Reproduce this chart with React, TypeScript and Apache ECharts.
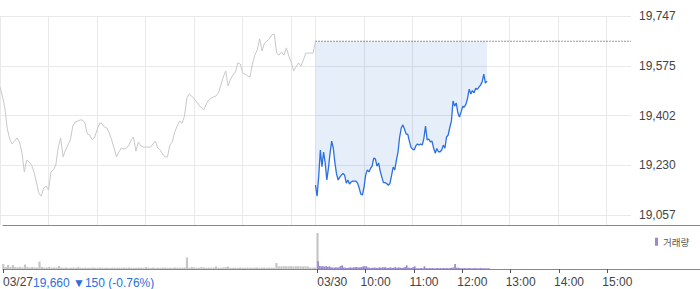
import React, { useEffect, useRef } from "react";
import * as echarts from "echarts";

const DAY1 = "03/27";
const DAY2 = "03/30";
const OPEN_MINUTE = 540; // 09:00
const SESSION_MINUTES = 390; // 09:00 - 15:30
const DAY1_STEP = 3;
const DAY2_STEP = 2;
const PREV_CLOSE = 19660;
const PRICE_TEXT = "19,660 \u25BC150 (-0.76%)";

const Y_TICK_MIN = 19057.5;
const Y_TICK_STEP = 172.5;
const Y_TICK_MAX = 19747.5;
const Y_DATA_MIN = 19023;
const VOL_MAX = 4400;

const X_LABELS = [
  "03/27 09:00",
  "03/30 09:00",
  "03/30 10:00",
  "03/30 11:00",
  "03/30 12:00",
  "03/30 13:00",
  "03/30 14:00",
  "03/30 15:00",
];

// 03/27, every 3 minutes from 09:00, last value = close
const day1Price = [
  19501, 19470, 19429, 19356, 19321, 19304, 19314, 19325, 19311, 19276,
  19207, 19248, 19241, 19231, 19207, 19172, 19134, 19123, 19151, 19158,
  19144, 19207, 19214, 19231, 19293, 19325, 19259, 19283, 19300, 19318,
  19366, 19380, 19383, 19387, 19387, 19376, 19338, 19335, 19318, 19328,
  19352, 19376, 19375, 19363, 19359, 19342, 19318, 19290, 19259, 19276,
  19290, 19286, 19290, 19297, 19318, 19328, 19279, 19311, 19297, 19293,
  19293, 19293, 19293, 19304, 19314, 19290, 19283, 19269, 19259, 19259,
  19300, 19311, 19345, 19366, 19383, 19376, 19400, 19463, 19477, 19470,
  19460, 19450, 19439, 19429, 19422, 19443, 19456, 19463, 19467, 19470,
  19481, 19508, 19536, 19557, 19505, 19529, 19543, 19553, 19585, 19581,
  19550, 19546, 19540, 19536, 19581, 19612, 19630, 19668, 19626, 19654,
  19661, 19668, 19682, 19685, 19619, 19612, 19623, 19612, 19637, 19609,
  19588, 19557, 19571, 19585, 19574, 19595, 19619, 19619, 19619, 19619,
  19660,
];

// 03/30, every 2 minutes from 09:00
const day2Price = [
  19161, 19123, 19193, 19283, 19225, 19276, 19238, 19179, 19220, 19272,
  19314, 19289, 19238, 19200, 19179, 19189, 19196, 19202, 19196, 19168,
  19179, 19165, 19172, 19175, 19175, 19175, 19168, 19151, 19130, 19127,
  19155, 19196, 19214, 19207, 19219, 19227, 19255, 19252, 19227, 19238,
  19210, 19189, 19170, 19170, 19167, 19161, 19167, 19194, 19224, 19214,
  19248, 19276, 19328, 19359, 19370, 19356, 19338, 19338, 19314, 19293,
  19286, 19283, 19297, 19304, 19300, 19304, 19300, 19324, 19366, 19318,
  19321, 19311, 19314, 19290, 19272, 19288, 19277, 19277, 19283, 19300,
  19289, 19328, 19335, 19361, 19383, 19453, 19435, 19446, 19411, 19397,
  19415, 19434, 19432, 19442, 19463, 19494, 19477, 19489, 19481, 19497,
  19493, 19501, 19508, 19519, 19546, 19515, 19522,
];

const day1Volume = [
  500, 200, 400, 200, 400, 200, 150, 200, 150, 450,
  200, 150, 200, 150, 150, 750, 200, 150, 150, 200,
  150, 150, 150, 300, 150,
  120, 150, 120, 130, 150, 120, 200, 130, 120, 150,
  120, 130, 150, 120, 120, 150, 130, 120, 140, 120,
  130, 150, 120, 130, 120, 150, 120, 140, 130, 120,
  120, 150, 130, 120, 200, 130, 120, 150, 120, 130,
  120, 140, 150, 120, 130, 120, 150, 130, 140, 120, 150,
  1150,
  130, 200, 150, 120, 130, 200, 150, 120, 140, 120,
  150, 250, 130, 120, 150, 200, 250, 130, 120, 140,
  120, 150, 130, 120, 150, 130, 120, 140, 150, 120,
  130, 150, 120, 140, 130, 120,
  600,
  270, 260, 280, 270, 270, 280, 260, 270, 280, 270, 260, 270, 260,
  150, 140, 150,
  3600,
];

const day2Volume = [
  770, 300, 270, 270, 250, 270, 200, 270, 170, 150,
  130, 170, 150, 170, 300, 370, 150, 130, 100, 130,
  170, 130, 170, 170, 200, 150, 170, 200, 270, 270,
  270, 150, 130, 100, 130, 150, 130, 100, 170, 130,
  170, 170, 170, 100, 130, 170, 100, 130, 200, 100,
  170, 130, 100, 130, 200, 370, 130, 130, 100, 170,
  270, 70, 70, 70, 100, 70, 270, 100, 70, 100,
  70, 100, 70, 70, 100, 70, 100, 70, 100, 70,
  100, 70, 100, 130, 150, 500, 130, 130, 100, 70,
  70, 100, 70, 70, 100, 70, 70, 100, 70, 70,
  70, 100, 70, 70, 70, 70, 70,
];

const FONT = '"Liberation Sans", Arial, sans-serif';

function pad2(n: number) {
  return n < 10 ? "0" + n : String(n);
}
function categoryName(i: number) {
  const day = i < SESSION_MINUTES ? DAY1 : DAY2;
  const t = OPEN_MINUTE + (i < SESSION_MINUTES ? i : i - SESSION_MINUTES);
  return `${day} ${pad2(Math.floor(t / 60))}:${pad2(t % 60)}`;
}
const mainCats = Array.from({ length: 2 * SESSION_MINUTES + 1 }, (_, i) => categoryName(i));
const volCats = Array.from({ length: 866 }, (_, i) => categoryName(i));

const day1Pairs = day1Price.map((v, i) => [i * DAY1_STEP, v]);
const day2Pairs = day2Price.map((v, k) => [SESSION_MINUTES + k * DAY2_STEP, v]);
const gapPairs = day2Price.map((v, k) => [SESSION_MINUTES + k * DAY2_STEP, PREV_CLOSE - v]);
const prevClosePairs = [
  [SESSION_MINUTES, PREV_CLOSE],
  [2 * SESSION_MINUTES, PREV_CLOSE],
];
const day1VolPairs = day1Volume.map((v, i) => [i * DAY1_STEP, v]);
const day2VolPairs = day2Volume.map((v, k) => [SESSION_MINUTES + 1 + k * DAY2_STEP, v]);

const fmt = (v: number) => Math.floor(v + 1e-6).toLocaleString("en-US");

export default function App() {
  const ref = useRef<HTMLDivElement>(null);
  useEffect(() => {
    if (!ref.current) return;
    const chart = echarts.init(ref.current, undefined, { renderer: "svg" });
    const isHour = (_: number, v: string) => v.endsWith(":00");
    const isLabel = (_: number, v: string) => X_LABELS.includes(v);
    chart.setOption({
      animation: false,
      textStyle: { fontFamily: FONT },
      legend: {
        data: ["거래량"],
        left: 650,
        top: 232,
        icon: "rect",
        itemWidth: 3,
        itemHeight: 8,
        selectedMode: false,
        textStyle: { fontSize: 9.5, color: "#555", fontFamily: '"Noto Sans CJK KR", sans-serif' },
      },
      grid: [
        { left: 0, top: 16, width: 631, height: 209 },
        { left: 0, top: 16, width: 631, height: 199 },
        { left: 0, top: 225, width: 700, height: 44 },
      ],
      xAxis: [
        {
          gridIndex: 0,
          type: "category",
          data: mainCats,
          boundaryGap: false,
          axisLine: { show: false },
          axisTick: { show: false },
          axisLabel: { show: false },
          splitLine: { show: true, interval: isHour, lineStyle: { color: "#e9e9e9", width: 1 } },
        },
        { gridIndex: 1, type: "category", data: mainCats, boundaryGap: false, show: false },
        {
          gridIndex: 2,
          type: "category",
          data: volCats,
          boundaryGap: false,
          axisLine: { show: true, onZero: false, lineStyle: { color: "#888", width: 1 } },
          axisTick: { show: true, interval: isLabel, length: 4, lineStyle: { color: "#555" } },
          axisLabel: {
            interval: isLabel,
            margin: 7,
            formatter: (v: string) =>
              v.endsWith("09:00") ? `{d|${v.slice(0, 5)}}` : `{t|${v.slice(6)}}`,
            rich: {
              d: { padding: [0, 0, 0, 30], fontSize: 12, color: "#444", fontFamily: FONT },
              t: { padding: [0, 0, 0, 20], fontSize: 12, color: "#444", fontFamily: FONT },
            },
          },
          splitLine: { show: false },
        },
        {
          gridIndex: 2,
          type: "category",
          data: volCats,
          position: "top",
          boundaryGap: false,
          axisLine: { show: true, onZero: false, lineStyle: { color: "#888", width: 1 } },
          axisTick: { show: false },
          axisLabel: { show: false },
          splitLine: { show: false },
        },
      ],
      yAxis: [
        { gridIndex: 0, type: "value", min: Y_DATA_MIN, max: Y_TICK_MAX, show: false },
        {
          gridIndex: 1,
          type: "value",
          position: "right",
          min: Y_TICK_MIN,
          max: Y_TICK_MAX,
          interval: Y_TICK_STEP,
          axisLine: { show: false },
          axisTick: { show: false },
          axisLabel: { margin: 8, formatter: fmt, color: "#444", fontSize: 12, fontFamily: FONT },
          splitLine: { show: true, lineStyle: { color: "#e9e9e9", width: 1 } },
        },
        { gridIndex: 2, type: "value", min: 0, max: VOL_MAX, show: false },
      ],
      series: [
        {
          name: "base",
          type: "line",
          xAxisIndex: 0,
          yAxisIndex: 0,
          stack: "gap",
          data: day2Pairs,
          symbol: "none",
          silent: true,
          lineStyle: { opacity: 0 },
          z: 1,
        },
        {
          name: "gap",
          type: "line",
          xAxisIndex: 0,
          yAxisIndex: 0,
          stack: "gap",
          data: gapPairs,
          symbol: "none",
          silent: true,
          lineStyle: { opacity: 0 },
          areaStyle: { color: "rgba(60,120,220,0.13)", opacity: 1 },
          z: 1,
        },
        {
          name: "prev close",
          type: "line",
          xAxisIndex: 0,
          yAxisIndex: 0,
          data: prevClosePairs,
          symbol: "none",
          silent: true,
          lineStyle: { color: "#333", width: 1, type: [1, 2] },
          z: 2,
        },
        {
          name: "03/27",
          type: "line",
          xAxisIndex: 0,
          yAxisIndex: 0,
          data: day1Pairs,
          symbol: "none",
          silent: true,
          lineStyle: { color: "#c8c8cc", width: 1 },
          z: 2,
        },
        {
          name: "03/30",
          type: "line",
          xAxisIndex: 0,
          yAxisIndex: 0,
          data: day2Pairs,
          symbol: "none",
          silent: true,
          lineStyle: { color: "#2b6fe0", width: 1.3 },
          z: 3,
        },
        {
          name: "전일 거래량",
          type: "bar",
          xAxisIndex: 2,
          yAxisIndex: 2,
          data: day1VolPairs,
          barWidth: 2.2,
          barGap: "-100%",
          silent: true,
          itemStyle: { color: "#c6c6c6" },
        },
        {
          name: "거래량",
          type: "bar",
          xAxisIndex: 2,
          yAxisIndex: 2,
          data: day2VolPairs,
          barWidth: 1.7,
          barGap: "-100%",
          silent: true,
          itemStyle: { color: "#9b88cf" },
        },
      ],
      graphic: [
        {
          type: "text",
          left: 33,
          top: 277,
          silent: true,
          style: { text: PRICE_TEXT, fill: "#2b6fe0", font: `12px ${FONT}` },
        },
      ],
    });
    return () => chart.dispose();
  }, []);
  return (
    <div
      ref={ref}
      style={{ position: "absolute", left: 0, top: 0, width: 700, height: 289 }}
    />
  );
}
